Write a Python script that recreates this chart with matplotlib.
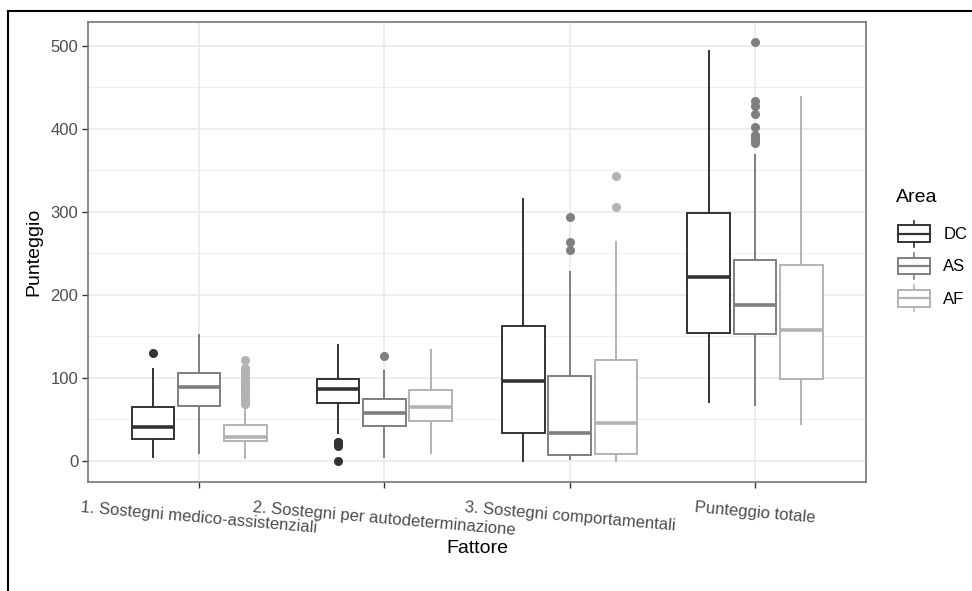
import matplotlib.pyplot as plt
from matplotlib.patches import Rectangle
from matplotlib.lines import Line2D
from matplotlib.legend_handler import HandlerBase

plt.rcParams['font.family'] = ['Liberation Sans', 'DejaVu Sans']

fattori = ["1. Sostegni medico-assistenziali",
           "2. Sostegni per autodeterminazione",
           "3. Sostegni comportamentali",
           "Punteggio totale"]
aree = ["DC", "AS", "AF"]
colori = ["#333333", "#7f7f7f", "#b3b3b3"]

# box stats per area, one value per fattore
q1 = {"DC": [26, 70, 33, 154],
      "AS": [66, 42, 7, 153],
      "AF": [24, 48, 8, 99]}
med = {"DC": [41, 86, 96, 221],
       "AS": [89, 57, 33, 188],
       "AF": [29, 65, 46, 158]}
q3 = {"DC": [65, 99, 162, 298],
      "AS": [106, 74, 102, 242],
      "AF": [43, 85, 121, 236]}
whislo = {"DC": [4, 33, 0, 71],
          "AS": [9, 5, 2, 67],
          "AF": [3, 9, 0, 44]}
whishi = {"DC": [110, 140, 316, 494],
          "AS": [151, 108, 227, 368],
          "AF": [66, 134, 263, 438]}
outliers = {"DC": [[130], [0, 18, 20, 22, 23], [], []],
            "AS": [[], [126], [254, 264, 294],
                   [383, 386, 390, 392, 402, 418, 427, 433, 504]],
            "AF": [[68, 72, 75, 78, 81, 84, 87, 90, 93, 96, 100, 104, 108, 112, 121],
                   [], [306, 343], []]}

fig = plt.figure(figsize=(9.72, 5.91), dpi=100)
ax = fig.add_axes([0.0905, 0.185, 0.8005, 0.7785])

offs = [-0.25, 0, 0.25]
for k, (a, c) in enumerate(zip(aree, colori)):
    stats = []
    for i in range(len(fattori)):
        stats.append(dict(q1=q1[a][i], med=med[a][i], q3=q3[a][i],
                          whislo=whislo[a][i], whishi=whishi[a][i],
                          fliers=outliers[a][i]))
    pos = [i + 1 + offs[k] for i in range(len(fattori))]
    ax.bxp(stats, positions=pos, widths=0.23, showcaps=False,
           patch_artist=True, manage_ticks=False,
           boxprops=dict(facecolor="white", edgecolor=c, linewidth=1.4),
           medianprops=dict(color=c, linewidth=2.6, solid_capstyle="butt"),
           whiskerprops=dict(color=c, linewidth=1.4),
           flierprops=dict(marker="o", markerfacecolor=c, markeredgecolor=c,
                           markersize=5.5))

ax.set_xlim(0.4, 4.6)
ax.set_ylim(-25.2, 529.2)
ax.set_xticks(range(1, 5))
ax.set_xticklabels(fattori, rotation=-5, ha="center", va="top",
                   rotation_mode="default", fontsize=12, color="#4d4d4d")
ax.set_yticks(range(0, 501, 100))
ax.set_yticks(range(50, 501, 100), minor=True)
ax.tick_params(axis="y", labelsize=12, labelcolor="#4d4d4d", pad=3)
ax.tick_params(which="major", length=4, width=1, color="#333333")
ax.tick_params(which="minor", length=0)
ax.tick_params(axis="x", pad=9)

ax.grid(which="major", color="#ebebeb", linewidth=1.2)
ax.grid(which="minor", axis="y", color="#ebebeb", linewidth=0.6)
ax.set_axisbelow(True)
for s in ax.spines.values():
    s.set_color("#777777")
    s.set_linewidth(1.2)

ax.set_xlabel("Fattore", fontsize=14, labelpad=2)
ax.set_ylabel("Punteggio", fontsize=14, labelpad=6)


class BoxKey(HandlerBase):
    # boxplot glyph for the legend, sizes in points
    def create_artists(self, legend, orig, xd, yd, w, h, fs, trans):
        c = orig.get_edgecolor()
        x0 = -xd
        cy = -yd + 0.5 * h
        bh = 12
        box = Rectangle((x0, cy - bh / 2), w, bh, facecolor="white",
                        edgecolor=c, linewidth=1.4, transform=trans)
        m = Line2D([x0, x0 + w], [cy, cy], color=c, lw=1.6, transform=trans)
        cx = x0 + 0.5 * w
        w1 = Line2D([cx, cx], [cy - 9.5, cy - bh / 2], color=c, lw=1.2,
                    transform=trans)
        w2 = Line2D([cx, cx], [cy + bh / 2, cy + 9.5], color=c, lw=1.2,
                    transform=trans)
        return [w1, w2, box, m]


handles = [Rectangle((0, 0), 1, 1, edgecolor=c, facecolor="white") for c in colori]
leg = fig.legend(handles, aree, loc="center left",
                 bbox_to_anchor=(0.924, 0.55), frameon=False,
                 handler_map={Rectangle: BoxKey()}, fontsize=12,
                 handlelength=1.92, handleheight=1.6, borderpad=0,
                 labelspacing=0.65, handletextpad=0.78, borderaxespad=0)
fig.text(0.922, 1 - 198 / 591, "Area", fontsize=14, ha="left", va="center")

# outer frame of the scanned figure
fig.add_artist(Line2D([0.008, 0.008], [0, 0.982], color="black", lw=1.5,
                      transform=fig.transFigure))
fig.add_artist(Line2D([0.008, 1], [0.982, 0.982], color="black", lw=1.5,
                      transform=fig.transFigure))

fig.savefig("out.png", dpi=100)
